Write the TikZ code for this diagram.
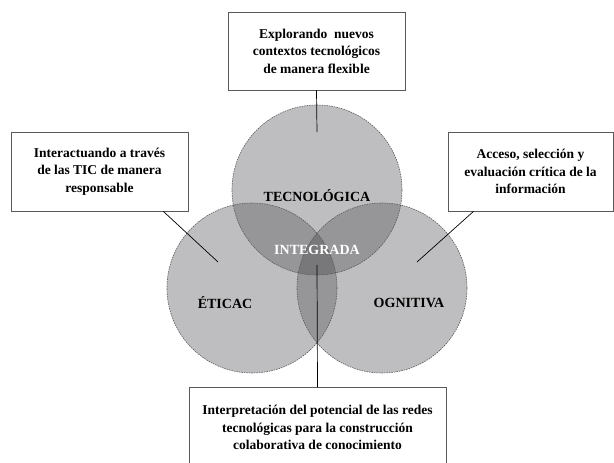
\documentclass[tikz,border=0pt]{standalone}
\usepackage{fontspec}
\setmainfont{Liberation Serif}
\definecolor{uno}{RGB}{190,190,192}
\definecolor{dos}{RGB}{150,150,152}
\definecolor{tres}{RGB}{120,120,122}
\begin{document}
\begin{tikzpicture}[x=1pt,y=-1pt,
  campo/.style={draw=black!65, dash pattern=on 1.5pt off 1pt, line width=0.6pt},
  caja/.style={draw=black!65, line width=0.8pt, fill=white, align=center, inner sep=0pt,
    font=\bfseries\fontsize{13.5}{17.5}\selectfont},
  etiqueta/.style={font=\bfseries\fontsize{14}{16}\selectfont}]
\useasboundingbox (0,0) rectangle (614,463);

% tres competencias
\coordinate (cT) at (317,190);
\coordinate (cE) at (252,288);
\coordinate (cC) at (382,288);
\fill[uno] (cT) circle (85pt) (cE) circle (85pt) (cC) circle (85pt);

% zonas comunes
\begin{scope}
  \clip (cT) circle (85pt);
  \fill[dos] (cE) circle (85pt) (cC) circle (85pt);
\end{scope}
\begin{scope}
  \clip (cE) circle (85pt);
  \fill[dos] (cC) circle (85pt);
\end{scope}
\begin{scope}
  \clip (cT) circle (85pt);
  \clip (cE) circle (85pt);
  \fill[tres] (cC) circle (85pt);
\end{scope}
\draw[campo] (cT) circle (85pt) (cE) circle (85pt) (cC) circle (85pt);

% nombres
\node[etiqueta] (tecno) at (317,196) {TECNOLÓGICA};
\node[etiqueta] (etica) at (225,303) {ÉTICAC};
\node[etiqueta] (cogni) at (409,303) {OGNITIVA};
\node[etiqueta, white] (integ) at (317,250) {INTEGRADA};

% recuadros
\node[caja, minimum width=177, minimum height=78] (cajaSup) at (316.5,51)
  {Explorando~ nuevos\\contextos tecnológicos\\de manera flexible};
\node[caja, minimum width=177, minimum height=79] (cajaIzq) at (99.5,171.5)
  {Interactuando a través\\de las TIC de manera\\responsable};
\node[caja, minimum width=165, minimum height=79] (cajaDer) at (530.5,171.5)
  {Acceso, selección y\\evaluación crítica de la\\información};
\node[caja, minimum width=257, minimum height=80, anchor=north] (cajaInf) at (317.5,387)
  {Interpretación del potencial de las redes\\tecnológicas para la construcción\\colaborativa de conocimiento};

% lineas
\coordinate (pT) at (317,132);
\coordinate (pE) at (218,262);
\coordinate (pC) at (417,262);
\coordinate (pI) at (317,265);
\draw[line width=0.7pt] (cajaSup.south) -- (pT);
\draw[line width=0.7pt] (cajaIzq.-32) -- (pE);
\draw[line width=0.7pt] (cajaDer.-145) -- (pC);
\draw[line width=0.7pt] (cajaInf.north) -- (pI);
\end{tikzpicture}
\end{document}
